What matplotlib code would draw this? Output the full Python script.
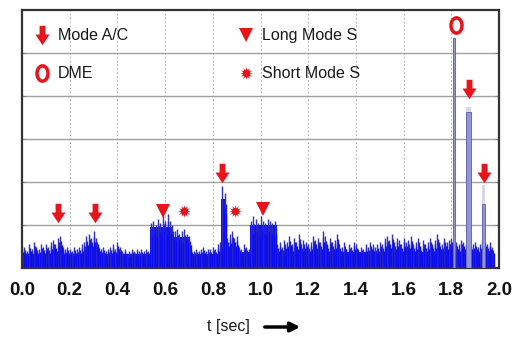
import numpy as np
import matplotlib
matplotlib.use("Agg")
import matplotlib.pyplot as plt
from matplotlib.path import Path

plt.rcParams['font.family'] = ['Liberation Sans', 'DejaVu Sans']

# sampled peak heights of the received pulse trace (grid units), 0.01 s apart
t0 = 0.0
dt = 0.01
peaks = [
    0.45, 0.5, 0.4, 0.55, 0.45, 0.6, 0.5, 0.45, 0.55, 0.5,
    0.55, 0.5, 0.6, 0.65, 0.55, 0.7, 0.75, 0.5, 0.45, 0.5,
    0.45, 0.4, 0.5, 0.45, 0.5, 0.55, 0.6, 0.75, 0.8, 0.7,
    0.85, 0.7, 0.55, 0.45, 0.5, 0.4, 0.45, 0.5, 0.55, 0.45,
    0.6, 0.5, 0.4, 0.45, 0.35, 0.4, 0.45, 0.4, 0.45, 0.4,
    0.45, 0.4, 0.45, 0.4, 1.05, 1.1, 1.0, 1.15, 1.05, 1.2,
    1.1, 1.25, 1.1, 1.0, 0.85, 0.9, 0.8, 0.85, 0.9, 0.8,
    0.75, 0.45, 0.4, 0.45, 0.4, 0.45, 0.5, 0.4, 0.45, 0.45,
    0.5, 0.45, 0.55, 0.6, 1.9, 1.75, 0.7, 0.8, 0.85, 0.7,
    0.75, 0.5, 0.45, 0.55, 0.5, 0.45, 1.1, 1.2, 1.15, 1.05,
    1.2, 1.1, 1.05, 1.15, 1.1, 1.05, 1.1, 0.55, 0.6, 0.5,
    0.65, 0.6, 0.75, 0.55, 0.7, 0.6, 0.8, 0.55, 0.65, 0.6,
    0.55, 0.6, 0.75, 0.65, 0.7, 0.6, 0.85, 0.75, 0.55, 0.7,
    0.6, 0.65, 0.8, 0.55, 0.5, 0.6, 0.45, 0.55, 0.5, 0.6,
    0.55, 0.45, 0.5, 0.45, 0.55, 0.5, 0.6, 0.55, 0.5, 0.55,
    0.6, 0.55, 0.7, 0.75, 0.65, 0.8, 0.6, 0.7, 0.65, 0.55,
    0.7, 0.6, 0.65, 0.75, 0.55, 0.6, 0.7, 0.5, 0.65, 0.55,
    0.6, 0.7, 0.55, 0.65, 0.8, 0.6, 0.55, 0.7, 0.6, 0.65,
    0.7, 0.5, 0.6, 0.55, 0.65, 0.6, 0.55, 0.7, 0.6, 0.55,
    0.6, 0.5, 0.55, 0.65, 0.6, 0.55, 0.6, 0.5,
]

# solid body of the trace: segment edges (s) and level per segment
body_edges = [0.0, 0.535, 0.63, 0.705, 0.835, 0.855, 0.91, 0.955, 1.07, 1.97]
body_levels = [0.33, 0.95, 0.72, 0.33, 1.6, 0.5, 0.38, 1.0, 0.38]

# strong pulses near the end (DME, two Mode A/C replies)
pulse_t = [1.811, 1.872, 1.934]
pulse_w = [0.008, 0.02, 0.012]
pulse_h = [5.35, 3.62, 1.5]
pulse_faint = [5.35, 3.75, 1.93]

# annotation markers (t, level)
modeac_t = [0.151, 0.306, 0.839, 1.874, 1.937]
modeac_y = [1.29, 1.29, 2.2, 4.16, 2.22]
longs_t = [0.591, 1.011]
longs_y = [1.33, 1.37]
shorts_t = [0.679, 0.893]
shorts_y = [1.33, 1.33]
dme_t = [1.82]
dme_y = [5.66]

xticks = [0.0, 0.2, 0.4, 0.6, 0.8, 1.0, 1.2, 1.4, 1.6, 1.8, 2.0]

red = '#e8141c'
blue = '#0c0cf0'

arrow_marker = Path([(-0.3, 1), (0.3, 1), (0.3, 0.1), (0.72, 0.1),
                     (0, -1), (-0.72, 0.1), (-0.3, 0.1), (-0.3, 1)],
                    closed=True)
circ = Path.unit_circle()
oval_marker = Path(circ.vertices * [0.72, 1.0], circ.codes)

fig = plt.figure(figsize=(5.18, 3.38), dpi=100)
ax = fig.add_axes([0.0425, 0.207, 0.921, 0.763])

# trace
fill_y = body_levels + [body_levels[-1]]
ax.fill_between(body_edges, 0, fill_y, step='post', color=blue, lw=0, zorder=2)
pk_t = t0 + dt * np.arange(len(peaks))
pk = np.array(peaks)
ax.vlines(pk_t, 0, pk, color='#3030c0', lw=1.0, zorder=2)
ax.vlines(pk_t + dt / 3, 0, pk * 0.85, color='#1a1ae0', lw=1.0, zorder=2)
ax.vlines(pk_t + 2 * dt / 3, 0, pk * 0.72, color=blue, lw=1.0, zorder=2)

ax.bar(pulse_t, pulse_faint, width=pulse_w, color='#d8d8e8', lw=0, zorder=2)
ax.bar(pulse_t, pulse_h, width=pulse_w, color='#9494d4', edgecolor='#5c5cb4',
       lw=0.6, zorder=3)

# markers
ax.plot(modeac_t, modeac_y, ls='none', marker=arrow_marker, ms=14,
        color=red, mew=0, zorder=5)
ax.plot(longs_t, longs_y, ls='none', marker='v', ms=10, color=red, mew=0, zorder=5)
ax.plot(shorts_t, shorts_y, ls='none', marker=(12, 1, 0), ms=9, color=red,
        mew=0, zorder=5)
ax.plot(shorts_t, shorts_y, ls='none', marker='o', ms=5, color=red, mew=0, zorder=5)
ax.plot(dme_t, dme_y, ls='none', marker=oval_marker, ms=11, mfc='none',
        mec=red, mew=2.5, zorder=5)

# legend drawn inside the plot area
tr = ax.transAxes
ax.plot([0.042], [0.903], transform=tr, marker=arrow_marker, ms=14, color=red, mew=0)
ax.plot([0.042], [0.756], transform=tr, marker=oval_marker, ms=11, mfc='none',
        mec=red, mew=2.5)
ax.plot([0.47], [0.903], transform=tr, marker='v', ms=10, color=red, mew=0)
ax.plot([0.47], [0.756], transform=tr, marker=(12, 1, 0), ms=9, color=red, mew=0)
ax.plot([0.47], [0.756], transform=tr, marker='o', ms=5, color=red, mew=0)
lkw = dict(transform=tr, fontsize=11.5, va='center', color='#1a1a1a')
ax.text(0.075, 0.903, 'Mode A/C', **lkw)
ax.text(0.075, 0.756, 'DME', **lkw)
ax.text(0.503, 0.903, 'Long Mode S', **lkw)
ax.text(0.503, 0.756, 'Short Mode S', **lkw)

ax.set_xlim(0, 2.0)
ax.set_ylim(0, 6)
ax.set_xticks(xticks)
ax.set_xticklabels([f'{v:.1f}' for v in xticks], fontsize=13.5,
                   fontweight='bold', color='#111111')
ax.tick_params(axis='x', length=0, pad=10)
ax.set_yticks([1, 2, 3, 4, 5])
ax.set_yticklabels([])
ax.tick_params(axis='y', length=3, direction='in', right=True, color='#888888')

ax.grid(axis='y', color='#a0a0a0', lw=1.0, zorder=0)
ax.grid(axis='x', color='#b8b8b8', lw=0.7, ls=(0, (2, 2)), zorder=0)
ax.set_axisbelow(True)
for sp in ax.spines.values():
    sp.set_color('#333333')
    sp.set_linewidth(1.6)

fig.text(228 / 518, 11 / 338, 't [sec]', fontsize=11.5, ha='center', va='center',
         color='#1a1a1a')
ax.annotate('', xy=(303 / 518, 11 / 338), xytext=(262 / 518, 11 / 338),
            xycoords='figure fraction', textcoords='figure fraction',
            arrowprops=dict(arrowstyle='-|>', lw=2.5, color='black',
                            mutation_scale=14))

fig.savefig('out.png', dpi=100)
